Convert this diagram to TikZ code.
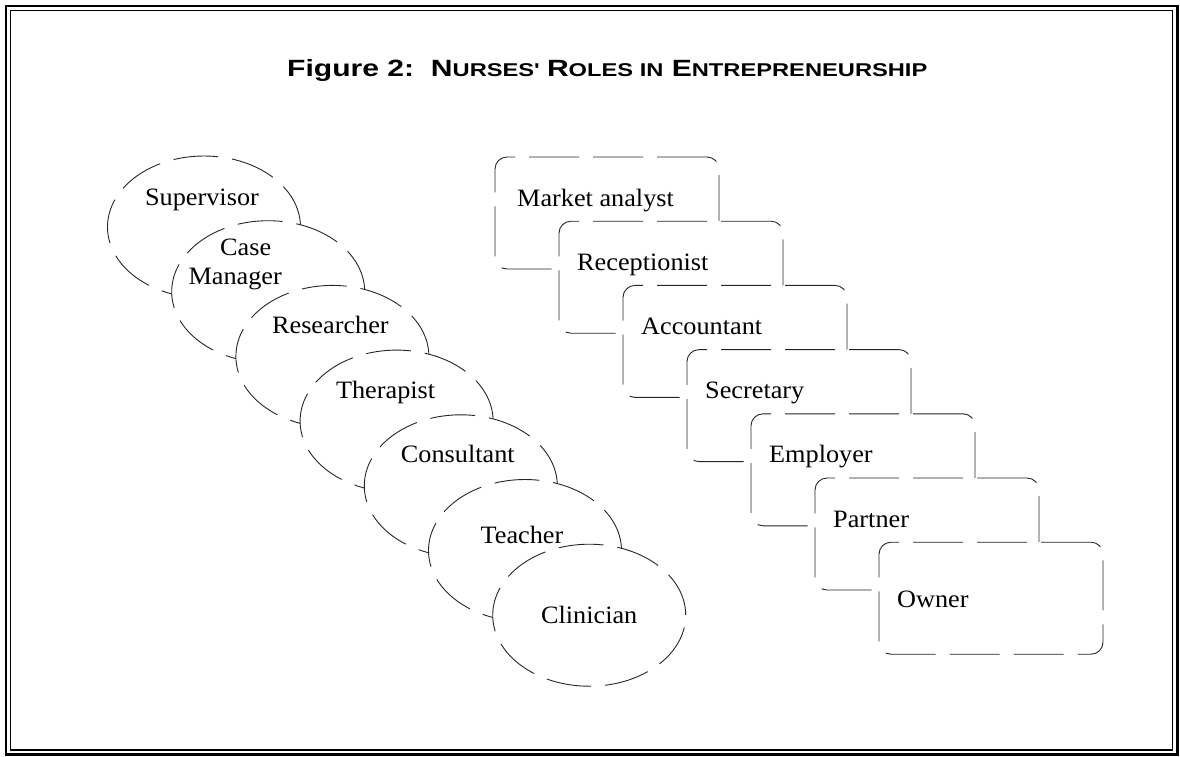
\documentclass[tikz,border=0pt]{standalone}
\usepackage{fontspec}
\setmainfont{Liberation Serif}[FakeStretch=1.05]
\newfontfamily\titlefont{Liberation Sans}[FakeStretch=1.28]
\usetikzlibrary{shapes.geometric}
\begin{document}
\begin{tikzpicture}[x=1pt,y=-1pt,
  oval/.style={ellipse, draw=black!85, fill=white, line width=0.9pt,
    dash pattern=on 45pt off 14pt, minimum width=193pt, minimum height=142pt, inner sep=0pt},
  rolebox/.style={rectangle, rounded corners=12pt, draw=black!85, fill=white, line width=0.9pt,
    dash pattern=on 50pt off 14pt, minimum width=224pt, minimum height=112pt, inner sep=0pt},
  lbl/.style={font=\fontsize{25}{29}\selectfont, inner sep=0pt, anchor=base},
  blbl/.style={font=\fontsize{25}{29}\selectfont, inner sep=0pt, anchor=base west}]
\useasboundingbox (0,0) rectangle (1180,756);
\draw[line width=2.5pt] (6,6) rectangle (1177.5,754.5);
\draw[line width=1.2pt] (10.5,10.5) rectangle (1172.5,750);
\node[anchor=base west, inner sep=0pt] (title) at (287,76)
  {\titlefont\bfseries\fontsize{23.5}{28}\selectfont Figure 2:\ \ N{\fontsize{18.5}{22}\selectfont URSES\textquotesingle} R{\fontsize{18.5}{22}\selectfont OLES IN} E{\fontsize{18.5}{22}\selectfont NTREPRENEURSHIP}};
% ellipses
\node[oval] (e1) at (204,227) {};
\node[lbl] (t1) at ([xshift=-2pt,yshift=22pt]e1.center) {Supervisor};
\node[oval] (e2) at (268.2,291.7) {};
\node[lbl, align=center] (t2) at ([xshift=-33pt,yshift=7.7pt]e2.center) {\hspace*{21pt}Case\\Manager};
\node[oval] (e3) at (332.4,356.4) {};
\node[lbl] (t3) at ([xshift=-2pt,yshift=23pt]e3.center) {Researcher};
\node[oval] (e4) at (396.6,421.1) {};
\node[lbl] (t4) at ([xshift=-11pt,yshift=23pt]e4.center) {Therapist};
\node[oval] (e5) at (460.8,485.8) {};
\node[lbl] (t5) at ([xshift=-3pt,yshift=23pt]e5.center) {Consultant};
\node[oval] (e6) at (525,550.5) {};
\node[lbl] (t6) at ([xshift=-3pt,yshift=7.5pt]e6.center) {Teacher};
\node[oval] (e7) at (589.2,615.2) {};
\node[lbl] (t7) at ([yshift=-8pt]e7.center) {Clinician};
% boxes
\node[rolebox] (b1) at (607,213) {};
\node[blbl] (u1) at ([xshift=-90pt,yshift=7pt]b1.center) {Market analyst};
\node[rolebox] (b2) at (671,277.2) {};
\node[blbl] (u2) at ([xshift=-94pt,yshift=7pt]b2.center) {Receptionist};
\node[rolebox] (b3) at (735,341.4) {};
\node[blbl] (u3) at ([xshift=-94pt,yshift=7pt]b3.center) {Accountant};
\node[rolebox] (b4) at (799,405.6) {};
\node[blbl] (u4) at ([xshift=-94pt,yshift=7pt]b4.center) {Secretary};
\node[rolebox] (b5) at (863,469.8) {};
\node[blbl] (u5) at ([xshift=-94pt,yshift=7pt]b5.center) {Employer};
\node[rolebox] (b6) at (927,534) {};
\node[blbl] (u6) at ([xshift=-94pt,yshift=7pt]b6.center) {Partner};
\node[rolebox] (b7) at (991,598.2) {};
\node[blbl] (u7) at ([xshift=-94pt,yshift=-9pt]b7.center) {Owner};
\end{tikzpicture}
\end{document}
